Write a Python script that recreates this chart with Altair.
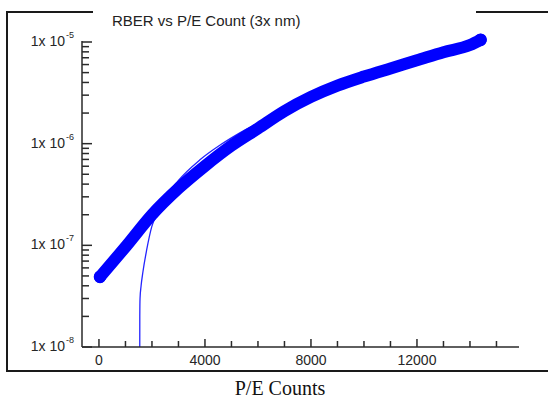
import altair as alt
import pandas as pd

# ---- data ----
band_x = [40, 1050, 2000, 3000, 4000, 5000, 6000, 7000, 8000, 9000, 10000, 11000, 12000, 13000, 14000, 14400]
band_y = [4.9e-8, 1.0e-7, 2.0e-7, 3.63e-7, 6.03e-7, 9.55e-7, 1.41e-6, 2.09e-6, 2.88e-6, 3.72e-6,
          4.57e-6, 5.5e-6, 6.6e-6, 7.94e-6, 9.33e-6, 1.05e-5]

fit_x = [1540, 1541, 1550, 1590, 1660, 1800, 1990, 2210, 2400, 3000, 3800, 4600, 5500, 7000, 8500,
         10000, 11500, 13000, 14400]
fit_y = [1.0e-8, 2.0e-8, 3.0e-8, 4.0e-8, 5.5e-8, 9.0e-8, 1.52e-7, 2.08e-7, 2.65e-7, 4.35e-7, 6.9e-7,
         9.8e-7, 1.36e-6, 2.1e-6, 3.1e-6, 4.3e-6, 5.9e-6, 7.8e-6, 1.0e-5]

y_major = [1e-8, 1e-7, 1e-6, 1e-5]
y_major_base = ["1x 10", "1x 10", "1x 10", "1x 10"]
y_major_exp = ["-8", "-7", "-6", "-5"]
y_minor = [k * d for d in [1e-8, 1e-7, 1e-6] for k in [2, 3, 4, 5, 6, 7, 8, 9]]

x_major = [0, 4000, 8000, 12000]
x_major_labels = ["0", "4000", "8000", "12000"]
x_minor = [1000, 2000, 3000, 5000, 6000, 7000, 9000, 10000, 11000, 13000, 14000, 15000]

title_text = "RBER vs P/E Count (3x nm)"
x_title = "P/E Counts"

W, H = 437, 305
SANS = "Liberation Sans"
AXC = "#2a2a2a"
TXT = "#262626"

xscale = alt.Scale(domain=[-640, 15850], nice=False, zero=False)
yscale = alt.Scale(type="log", domain=[1e-8, 1e-5], nice=False)

band = pd.DataFrame({"x": band_x, "y": band_y})
fit = pd.DataFrame({"x": fit_x, "y": fit_y})
ends = pd.DataFrame({"x": [band_x[0], band_x[-1]], "y": [band_y[0], band_y[-1]]})

band_line = alt.Chart(band).mark_line(strokeWidth=12, color="#0000ff", strokeCap="round",
                                      strokeJoin="round", interpolate="monotone").encode(
    x=alt.X("x:Q", scale=xscale, axis=None),
    y=alt.Y("y:Q", scale=yscale, axis=None),
)

end_pts = alt.Chart(ends).mark_circle(size=160, color="#0000ff", opacity=1).encode(
    x=alt.X("x:Q", scale=xscale, axis=None), y=alt.Y("y:Q", scale=yscale, axis=None))

fit_line = alt.Chart(fit).mark_line(strokeWidth=1.3, color="#2424ff", interpolate="monotone").encode(
    x=alt.X("x:Q", scale=xscale, axis=None), y=alt.Y("y:Q", scale=yscale, axis=None))

# ticks (drawn inward)
ymaj_df = pd.DataFrame({"v": y_major, "b": y_major_base, "e": y_major_exp})
ymin_df = pd.DataFrame({"v": y_minor})
xmaj_df = pd.DataFrame({"v": x_major, "l": x_major_labels})
xmin_df = pd.DataFrame({"v": x_minor})

ymaj_ticks = alt.Chart(ymaj_df).mark_rule(color=AXC, strokeWidth=1.5).encode(
    y=alt.Y("v:Q", scale=yscale, axis=None), x=alt.value(0), x2=alt.value(10))
ymin_ticks = alt.Chart(ymin_df).mark_rule(color=AXC, strokeWidth=1.5).encode(
    y=alt.Y("v:Q", scale=yscale, axis=None), x=alt.value(0), x2=alt.value(7))
xmaj_ticks = alt.Chart(xmaj_df).mark_rule(color=AXC, strokeWidth=1.5).encode(
    x=alt.X("v:Q", scale=xscale, axis=None), y=alt.value(H), y2=alt.value(H - 8))
xmin_ticks = alt.Chart(xmin_df).mark_rule(color=AXC, strokeWidth=1.5).encode(
    x=alt.X("v:Q", scale=xscale, axis=None), y=alt.value(H), y2=alt.value(H - 6))

ylab = alt.Chart(ymaj_df).mark_text(align="right", baseline="middle", font=SANS, fontSize=14,
                                    color=TXT).encode(
    y=alt.Y("v:Q", scale=yscale, axis=None), x=alt.value(-17), text="b:N")
yexp = alt.Chart(ymaj_df).mark_text(align="left", baseline="middle", font=SANS, fontSize=9,
                                    dy=-7, color=TXT).encode(
    y=alt.Y("v:Q", scale=yscale, axis=None), x=alt.value(-16), text="e:N")
xlab = alt.Chart(xmaj_df).mark_text(align="center", baseline="middle", font=SANS, fontSize=14,
                                    color=TXT).encode(
    x=alt.X("v:Q", scale=xscale, axis=None), y=alt.value(H + 14), text="l:N")

one = pd.DataFrame({"t": [title_text]})
title = alt.Chart(one).mark_text(align="left", baseline="middle", font=SANS, fontSize=15,
                                 color="#222222").encode(
    x=alt.value(30), y=alt.value(-21), text="t:N")
xt = pd.DataFrame({"t": [x_title]})
xtitle = alt.Chart(xt).mark_text(align="center", baseline="alphabetic", font="Liberation Serif",
                                 fontSize=20, color="#111111").encode(
    x=alt.value(198), y=alt.value(353), text="t:N")

# axis lines
y_axis_line = alt.Chart(one).mark_rule(color=AXC, strokeWidth=1.5).encode(
    x=alt.value(0), y=alt.value(-1), y2=alt.value(H))
x_axis_line = alt.Chart(one).mark_rule(color=AXC, strokeWidth=1.5).encode(
    x=alt.value(0), x2=alt.value(W), y=alt.value(H))

FC = "#1a1a1a"
frame_left = alt.Chart(one).mark_rule(color=FC, strokeWidth=2).encode(
    x=alt.value(-75), y=alt.value(-30), y2=alt.value(329))
frame_top1 = alt.Chart(one).mark_rule(color=FC, strokeWidth=2).encode(
    x=alt.value(-76), x2=alt.value(11), y=alt.value(-30))
frame_top2 = alt.Chart(one).mark_rule(color=FC, strokeWidth=2).encode(
    x=alt.value(394), x2=alt.value(466), y=alt.value(-30))
frame_bot = alt.Chart(one).mark_rule(color=FC, strokeWidth=2).encode(
    x=alt.value(-76), x2=alt.value(466), y=alt.value(329))

chart = alt.layer(
    fit_line, band_line, end_pts,
    ymaj_ticks, ymin_ticks, xmaj_ticks, xmin_ticks,
    y_axis_line, x_axis_line,
    ylab, yexp, xlab, title, xtitle,
    frame_left, frame_top1, frame_top2, frame_bot,
).properties(
    width=W, height=H,
    autosize=alt.AutoSizeParams(type="none"),
    padding={"left": 82, "top": 42, "right": 29, "bottom": 51},
    background="white",
).configure_view(stroke=None)

chart.save("out.html", embed_options={"renderer": "svg", "actions": False})
